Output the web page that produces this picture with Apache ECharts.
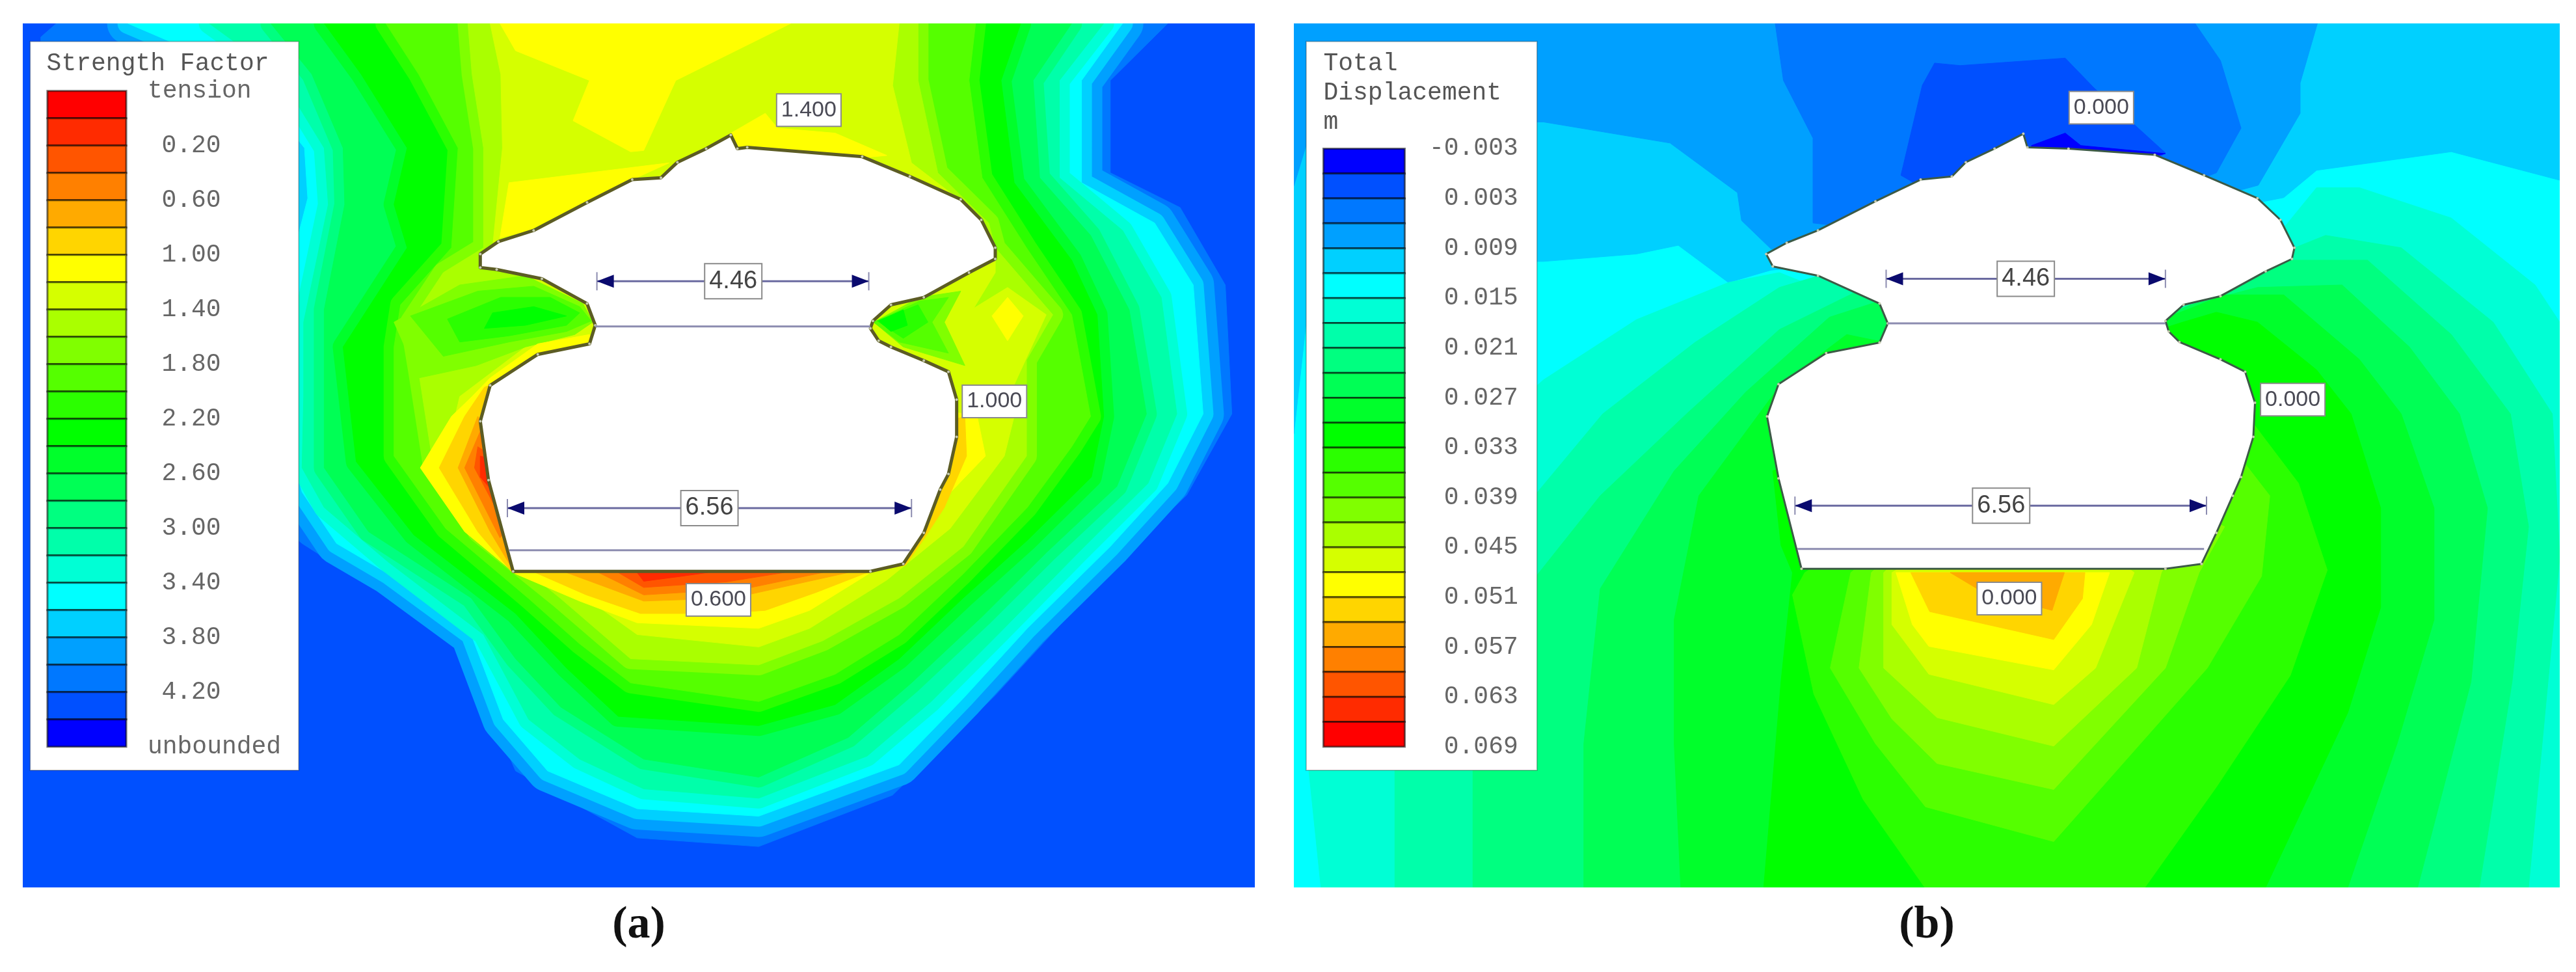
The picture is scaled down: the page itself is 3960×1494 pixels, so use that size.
<!DOCTYPE html>
<html>
<head>
<meta charset="utf-8">
<title>Strength factor and total displacement</title>
<script src="https://cdn.jsdelivr.net/npm/echarts@6/dist/echarts.min.js"></script>
<style>
	html, body { margin: 0; padding: 0; background: #fff; }
	#chart { width: 3960px; height: 1494px; }
</style>
</head>
<body>
<div id="chart"></div>
<script>
// band colours, red (index 0) to dark blue (index 23)
var bandColors = [
	"#ff0000", "#ff2b00", "#ff5500", "#ff8000", "#ffaa00", "#ffd500",
	"#ffff00", "#d5ff00", "#aaff00", "#80ff00", "#55ff00", "#2bff00",
	"#00ff00", "#00ff2b", "#00ff55", "#00ff80", "#00ffaa", "#00ffd5",
	"#00ffff", "#00d0ff", "#00a0ff", "#0078ff", "#0050ff", "#0000ff"
];

// legend texts
var titleA = ["Strength Factor"];
var ticksA = ["tension", "0.20", "0.60", "1.00", "1.40", "1.80", "2.20", "2.60", "3.00", "3.40", "3.80", "4.20", "unbounded"];
var titleB = ["Total", "Displacement", "m"];
var ticksB = ["-0.003", "0.003", "0.009", "0.015", "0.021", "0.027", "0.033", "0.039", "0.045", "0.051", "0.057", "0.063", "0.069"];

// contour outlines of panel (a), as [band, outline], outermost first
var contoursA = [
	[21, [[69,38],[1422,38],[1352,130],[1352,279],[1437,335],[1492,460],[1500,668],[1445,799],[1375,887],[1212,1122],[1087,1283],[924,1366],[776,1352],[628,1244],[617,1210],[585,1112],[574,1048],[512,985],[426,926],[368,877],[300,800],[50,700],[50,60]]],
	[18, [[156,38],[1367,38],[1317,130],[1317,295],[1406,360],[1453,460],[1465,668],[1422,780],[1352,882],[1251,1014],[1173,1127],[1095,1234],[924,1317],[776,1305],[667,1244],[613,1161],[574,1024],[473,926],[410,877],[368,794],[340,640],[340,500],[375,320],[371,239],[300,120]]],
	[16, [[255,38],[1344,38],[1290,130],[1290,287],[1367,372],[1414,480],[1433,668],[1398,780],[1313,892],[1219,1019],[1134,1132],[1056,1220],[924,1288],[784,1273],[706,1225],[644,1161],[589,1024],[473,907],[395,819],[368,755],[370,640],[370,520],[400,330],[395,239],[340,120]]],
	[14, [[330,38],[1305,38],[1258,130],[1266,287],[1328,380],[1375,500],[1396,668],[1360,785],[1274,892],[1196,995],[1110,1102],[1033,1190],[924,1254],[784,1225],[683,1141],[628,1063],[574,965],[449,858],[395,755],[395,500],[420,330],[418,239],[380,120]]],
	[12, [[395,38],[1243,38],[1219,130],[1235,295],[1305,420],[1336,508],[1344,672],[1329,770],[1251,872],[1173,965],[1095,1063],[1017,1137],[924,1171],[753,1156],[690,1078],[628,990],[504,863],[434,745],[418,560],[496,400],[480,330],[496,239],[440,120]]],
	[10, [[470,38],[1188,38],[1180,130],[1196,287],[1250,400],[1305,508],[1328,672],[1305,721],[1251,819],[1173,926],[1095,1024],[1017,1088],[924,1132],[768,1102],[706,1039],[644,966],[543,853],[480,736],[480,560],[488,492],[550,400],[558,239],[510,120]]],
	[8, [[570,38],[1118,38],[1118,130],[1142,279],[1204,360],[1212,400],[1282,508],[1250,581],[1250,736],[1173,882],[1095,965],[1002,1034],[924,1073],[768,1063],[683,966],[582,858],[527,745],[510,600],[500,520],[540,440],[589,400],[589,239],[575,120]]],
	[7, [[597,38],[1095,38],[1087,138],[1110,263],[1165,319],[1212,400],[1212,440],[1180,510],[1235,621],[1235,672],[1223,736],[1157,853],[1080,936],[986,1014],[924,1044],[776,1024],[698,950],[597,858],[543,736],[560,640],[620,580],[700,500],[640,440],[600,400],[612,239],[610,120]]]
];

// pockets and hot zones of panel (a), painted over the contours in this order
var patchesA = [
	[9, [[480,520],[560,460],[640,445],[710,490],[722,520],[700,540],[640,560],[580,590],[510,610]]],
	[10, [[500,510],[582,470],[650,462],[706,495],[720,518],[690,535],[620,552],[540,575]]],
	[11, [[545,515],[610,480],[670,480],[706,505],[690,525],[620,542],[560,552]]],
	[12, [[600,505],[650,495],[690,510],[640,525],[590,530]]],
	[9, [[1064,520],[1120,480],[1170,470],[1150,520],[1175,590],[1100,560]]],
	[10, [[1064,520],[1120,486],[1155,480],[1135,520],[1155,570],[1095,552]]],
	[11, [[1068,518],[1118,492],[1130,520],[1100,546]]],
	[12, [[1070,518],[1100,500],[1105,525],[1085,535]]],
	[7, [[1227,464],[1274,508],[1235,621],[1173,508]]],
	[6, [[1227,480],[1246,510],[1227,550],[1208,510]]],
	[6, [[609,38],[963,38],[823,130],[784,243],[768,245],[698,195],[718,130],[628,82]]],
	[6, [[885,219],[932,183],[947,207],[1017,215],[1080,251],[1048,255],[892,235]]],
	[6, [[620,295],[815,263],[722,319],[644,372],[609,384]]],
	[6, [[1190,672],[1200,736],[1126,838],[1064,921],[986,985],[924,1014],[776,1005],[706,970],[628,926],[566,858],[512,755],[550,672],[575,640],[597,610],[655,555],[718,540],[740,600],[900,700],[1100,650]]],
	[5, [[1175,672],[1177,736],[1150,819],[1126,868],[1103,912],[1056,924],[994,956],[932,985],[877,990],[780,990],[714,960],[652,924],[624,924],[582,858],[535,755],[566,672],[590,625],[640,600],[900,800],[1100,700]]],
	[4, [[582,672],[558,755],[597,858],[625,920],[650,800]]],
	[4, [[690,924],[784,970],[893,965],[1033,924],[850,880]]],
	[3, [[585,696],[566,755],[609,868],[650,800]]],
	[3, [[729,924],[784,960],[908,950],[1002,924],[850,880]]],
	[2, [[582,721],[578,755],[609,833],[650,780]]],
	[2, [[753,924],[784,948],[885,939],[955,924],[850,880]]],
	[1, [[585,736],[585,770],[601,794],[650,760]]],
	[1, [[776,924],[784,938],[830,930],[862,924],[820,880]]]
];

// contour outlines of panel (b): blue cap over the roof first, then the green dome
var contoursB = [
	[19, [[7,38],[1548,38],[1548,291],[1416,245],[1252,275],[1212,319],[900,400],[588,436],[536,456],[475,396],[424,410],[311,422],[30,425],[7,700]]],
	[20, [[7,38],[1253,38],[1232,134],[1232,183],[1181,299],[900,400],[588,402],[552,356],[547,311],[465,231],[311,197],[30,200],[7,300]]],
	[21, [[593,38],[1104,38],[1135,98],[1160,207],[1130,279],[900,400],[639,360],[639,223],[603,130]]],
	[22, [[772,138],[787,102],[818,106],[946,94],[981,142],[1068,247],[900,400],[746,283]]],
	[23, [[905,235],[946,215],[965,235],[1068,248],[900,300]]],
	[17, [[40,1432],[25,1240],[25,1000],[150,800],[311,613],[424,516],[536,456],[598,440],[900,600],[1212,368],[1252,303],[1304,303],[1416,352],[1518,460],[1548,520],[1548,1432]]],
	[16, [[130,1432],[130,1240],[150,1000],[300,800],[383,668],[495,553],[598,464],[649,444],[900,600],[1150,440],[1263,380],[1355,400],[1467,520],[1539,668],[1548,900],[1510,1432]]],
	[15, [[225,1432],[225,1240],[260,1000],[380,800],[485,668],[598,532],[690,472],[900,600],[1140,476],[1212,420],[1314,420],[1416,540],[1488,668],[1510,850],[1490,1100],[1450,1432]]],
	[14, [[360,1432],[360,1200],[380,950],[470,760],[557,633],[659,512],[720,486],[900,600],[1099,492],[1180,464],[1283,460],[1365,560],[1426,668],[1460,820],[1440,1100],[1375,1432]]],
	[13, [[478,1432],[470,1200],[470,1000],[500,800],[600,620],[680,540],[900,600],[1094,500],[1140,476],[1212,476],[1304,580],[1355,668],[1395,820],[1395,1000],[1350,1200],[1290,1432]]],
	[12, [[579,1432],[600,1100],[614,924],[600,880],[590,760],[900,600],[1089,520],[1130,504],[1180,520],[1252,597],[1294,668],[1330,820],[1330,980],[1290,1150],[1190,1432]]],
	[11, [[775,1432],[700,1290],[640,1120],[614,960],[629,924],[900,700],[1150,640],[1230,780],[1265,920],[1220,1090],[1130,1270],[1043,1432]]],
	[10, [[685,924],[660,1078],[715,1200],[776,1302],[932,1358],[1119,1078],[1185,930],[1195,800],[1160,740],[900,700]]],
	[9, [[710,924],[695,1078],[735,1160],[790,1232],[932,1274],[1068,1078],[1109,924],[1140,850],[900,700]]],
	[8, [[725,924],[725,1078],[790,1158],[932,1204],[1033,1078],[1063,924],[1090,860],[900,700]]],
	[7, [[735,924],[735,1008],[780,1088],[932,1137],[983,1078],[1030,924],[900,800]]],
	[6, [[740,924],[760,1008],[780,1043],[932,1081],[978,1008],[1000,924]]],
	[5, [[758,924],[781,987],[932,1032],[967,966],[970,924]]],
	[4, [[806,924],[845,955],[930,985],[945,924]]]
];

// excavation outlines
var tunnelA = [[585,410],[607,390],[650,372],[715,327],[770,290],[805,287],[825,262],[860,240],[890,218],[898,240],[910,238],[1050,253],[1108,285],[1170,322],[1195,355],[1212,400],[1212,418],[1180,440],[1125,480],[1085,492],[1063,518],[1060,530],[1070,550],[1085,560],[1125,582],[1155,600],[1165,645],[1165,705],[1155,765],[1145,790],[1125,860],[1100,910],[1060,922],[625,922],[595,775],[585,680],[597,622],[655,572],[718,555],[725,525],[715,490],[660,450],[605,435],[585,432]];
var tunnelB = [[582,410],[607,392],[645,372],[715,325],[770,290],[808,285],[825,262],[860,240],[895,216],[900,238],[950,240],[1055,250],[1115,283],[1180,320],[1208,355],[1225,400],[1222,418],[1190,438],[1135,478],[1090,492],[1068,518],[1072,535],[1085,552],[1135,580],[1165,600],[1177,650],[1175,705],[1160,770],[1150,800],[1130,860],[1112,910],[1068,918],[625,918],[597,772],[583,672],[597,620],[655,570],[720,553],[730,522],[720,490],[645,445],[590,430]];

// horizontal lines in the excavation: [x1, x2, y]
var floorsA = [[725,1060,527],[620,1108,888]];
var floorsB = [[730,1068,522],[620,1115,886]];
// width dimensions: [x1, x2, y]
var dimsA = [[727,1058,454],[618,1110,820]];
var dimsB = [[728,1068,450],[617,1118,816]];
// boxed values: [x, y, text]
var valuesA = [[985,178,"1.400"],[1211,648,"1.000"],[875,968,"0.600"]];
var valuesB = [[990,174,"0.000"],[1223,645,"0.000"],[878,966,"0.000"]];
var dimLabelsA = [[893,454,"4.46"],[864,820,"6.56"]];
var dimLabelsB = [[898,450,"4.46"],[868,816,"6.56"]];

var MONO = "'Liberation Mono', monospace";
var SANS = "'Liberation Sans', sans-serif";
var RIM = 16;

var panels = [
	{
		left: 35, width: 1894, xMin: 28, xMax: 1528, caption: "(a)", base: 22, rims: true,
		contours: contoursA, patches: patchesA, tunnel: tunnelA, tunnelStroke: "#5c5c24", tunnelWidth: 5,
		floors: floorsA, dims: dimsA, values: valuesA, dimLabels: dimLabelsA,
		box: [37,364,67,1243], bar: [58,154,147,1205], bandOrder: 1,
		title: titleA, titleX: 57, titleY: 103, ticks: ticksA,
		tickX: function(i) { return (i === 0 || i === ticksA.length - 1) ? 180 : 197; }, tickAlign: "left"
	},
	{
		left: 1989, width: 1946, xMin: 7, xMax: 1548, caption: "(b)", base: 18, rims: false,
		contours: contoursB, patches: [], tunnel: tunnelB, tunnelStroke: "#3c5a46", tunnelWidth: 3,
		floors: floorsB, dims: dimsB, values: valuesB, dimLabels: dimLabelsB,
		box: [22,303,67,1243], bar: [43,142,240,1205], bandOrder: -1,
		title: titleB, titleX: 43, titleY: 103, ticks: ticksB,
		tickX: function() { return 280; }, tickAlign: "right"
	}
];

function polygon(points, style) {
	return { type: "polygon", silent: true, shape: { points: points }, style: style };
}

function line(p1, p2, stroke, width) {
	return {
		type: "line", silent: true,
		shape: { x1: p1[0], y1: p1[1], x2: p2[0], y2: p2[1] },
		style: { stroke: stroke, lineWidth: width }
	};
}

function text(p, str, font, fill, align, boxed) {
	var style = { text: str, x: p[0], y: p[1], font: font, fill: fill, align: align, verticalAlign: "middle" };
	if (boxed) {
		style.backgroundColor = "#fff";
		style.borderColor = "#8a8a8a";
		style.borderWidth = 2;
		style.padding = [8, 6, 6, 6];
	}
	return { type: "text", silent: true, style: style };
}

// one contour: skipped bands are laid as rims around the outline, then the fill
function contourShape(api, prevBand, band, outline) {
	var pts = outline.map(function(p) { return api.coord(p); });
	var children = [];
	for (var j = prevBand - 1; j > band; j--) {
		children.push(polygon(pts, {
			fill: bandColors[j], stroke: bandColors[j], lineWidth: 2 * (j - band) * RIM, lineJoin: "round"
		}));
	}
	children.push(polygon(pts, { fill: bandColors[band], stroke: bandColors[band], lineWidth: 1 }));
	return { type: "group", children: children };
}

function contourSeries(index, panel, list, withRims) {
	return {
		type: "custom", coordinateSystem: "cartesian2d", xAxisIndex: index, yAxisIndex: index,
		clip: true, silent: true, animation: false, z: 2,
		data: list.map(function(c, i) { return [i]; }),
		encode: { x: 0 },
		renderItem: function(params, api) {
			var i = params.dataIndex;
			var prev = withRims && i > 0 ? list[i - 1][0] : list[i][0];
			if (withRims && i === 0) prev = panel.base;
			return contourShape(api, prev, list[i][0], list[i][1]);
		}
	};
}

function overlaySeries(index, panel) {
	return {
		type: "custom", coordinateSystem: "cartesian2d", xAxisIndex: index, yAxisIndex: index,
		clip: true, silent: true, animation: false, z: 3,
		data: [[0]],
		encode: { x: 0 },
		renderItem: function(params, api) {
			var children = [];
			var pts = panel.tunnel.map(function(p) { return api.coord(p); });
			children.push(polygon(pts, { fill: "#fff", stroke: panel.tunnelStroke, lineWidth: panel.tunnelWidth, lineJoin: "round" }));
			pts.forEach(function(p) {
				children.push({ type: "circle", silent: true, shape: { cx: p[0], cy: p[1], r: 2 }, style: { fill: "#c8ccb0" } });
			});
			panel.floors.forEach(function(f) {
				children.push(line(api.coord([f[0], f[2]]), api.coord([f[1], f[2]]), "#8c8cb0", 3));
			});
			panel.dims.forEach(function(d) {
				var a = api.coord([d[0], d[2]]);
				var b = api.coord([d[1], d[2]]);
				children.push(line(a, b, "#6a6aa0", 3));
				children.push(line([a[0], a[1] - 14], [a[0], a[1] + 14], "#8c8cb0", 2));
				children.push(line([b[0], b[1] - 14], [b[0], b[1] + 14], "#8c8cb0", 2));
				children.push(polygon([a, [a[0] + 26, a[1] - 10], [a[0] + 26, a[1] + 10]], { fill: "#0a0a6e" }));
				children.push(polygon([b, [b[0] - 26, b[1] - 10], [b[0] - 26, b[1] + 10]], { fill: "#0a0a6e" }));
			});
			panel.dimLabels.forEach(function(v) {
				children.push(text(api.coord(v), v[2], "38px " + SANS, "#444", "center", true));
			});
			panel.values.forEach(function(v) {
				children.push(text(api.coord(v), v[2], "34px " + SANS, "#4a4a55", "center", true));
			});
			return { type: "group", children: children };
		}
	};
}

function legendSeries(index, panel) {
	return {
		type: "custom", coordinateSystem: "cartesian2d", xAxisIndex: index, yAxisIndex: index,
		clip: false, silent: true, animation: false, z: 4,
		data: [[0]],
		encode: { x: 0 },
		renderItem: function(params, api) {
			var children = [];
			var box = panel.box, bar = panel.bar;
			var tl = api.coord([box[0], box[2]]);
			var br = api.coord([box[1], box[3]]);
			children.push({
				type: "rect", silent: true,
				shape: { x: tl[0], y: tl[1], width: br[0] - tl[0], height: br[1] - tl[1] },
				style: { fill: "#fff", stroke: "rgba(0,0,0,0.25)", lineWidth: 2 }
			});
			panel.title.forEach(function(t, i) {
				children.push(text(api.coord([panel.titleX, panel.titleY + 47 * i]), t, "38px " + MONO, "#555", "left"));
			});
			var n = bandColors.length;
			var h = (bar[3] - bar[2]) / n;
			for (var i = 0; i < n; i++) {
				var band = panel.bandOrder > 0 ? i : n - 1 - i;
				var a = api.coord([bar[0], bar[2] + h * i]);
				var b = api.coord([bar[1], bar[2] + h * (i + 1)]);
				children.push({
					type: "rect", silent: true,
					shape: { x: a[0], y: a[1], width: b[0] - a[0], height: b[1] - a[1] },
					style: { fill: bandColors[band], stroke: "rgba(0,0,0,0.55)", lineWidth: 3 }
				});
			}
			panel.ticks.forEach(function(t, k) {
				children.push(text(api.coord([panel.tickX(k), bar[2] + h * 2 * k]), t, "38px " + MONO, "#666", panel.tickAlign));
			});
			return { type: "group", children: children };
		}
	};
}

var grids = [], xAxes = [], yAxes = [], seriesList = [];
panels.forEach(function(panel, i) {
	grids.push({
		show: true, left: panel.left, top: 36, width: panel.width, height: 1328,
		backgroundColor: bandColors[panel.base], borderWidth: 0
	});
	xAxes.push({
		type: "value", gridIndex: i, min: panel.xMin, max: panel.xMax,
		name: panel.caption, nameLocation: "middle", nameGap: 24,
		nameTextStyle: { fontFamily: "'Liberation Serif', serif", fontWeight: "bold", fontSize: 70, color: "#111" },
		axisLine: { show: false }, axisTick: { show: false }, axisLabel: { show: false }, splitLine: { show: false }
	});
	yAxes.push({
		type: "value", gridIndex: i, inverse: true, min: 38, max: 1432,
		axisLine: { show: false }, axisTick: { show: false }, axisLabel: { show: false }, splitLine: { show: false }
	});
	seriesList.push(contourSeries(i, panel, panel.contours, panel.rims));
	if (panel.patches.length) seriesList.push(contourSeries(i, panel, panel.patches, false));
	seriesList.push(overlaySeries(i, panel));
	seriesList.push(legendSeries(i, panel));
});

var chart = echarts.init(document.getElementById("chart"));
chart.setOption({
	animation: false,
	backgroundColor: "#fff",
	grid: grids,
	xAxis: xAxes,
	yAxis: yAxes,
	series: seriesList
});
</script>
</body>
</html>
